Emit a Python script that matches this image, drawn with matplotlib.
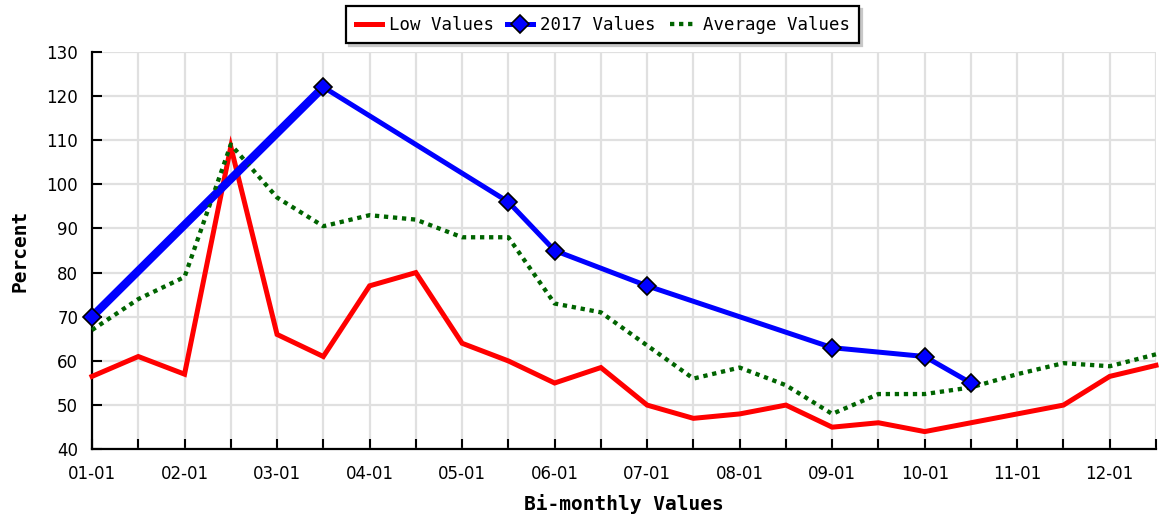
import numpy as np
import matplotlib
matplotlib.use("Agg")
import matplotlib.pyplot as plt

# bi-monthly points, 01-01 .. 12-15
tick_labels = ["01-01", "", "02-01", "", "03-01", "", "04-01", "", "05-01", "", "06-01", "",
               "07-01", "", "08-01", "", "09-01", "", "10-01", "", "11-01", "", "12-01", ""]

low_values = [56.5, 61, 57, 108.5, 66, 61, 77, 80, 64, 60, 55, 58.5,
              50, 47, 48, 50, 45, 46, 44, 46, 48, 50, 56.5, 59]
avg_values = [67, 74, 79, 109, 97, 90.5, 93, 92, 88, 88, 73, 71,
              63.5, 56, 58.5, 54.5, 48, 52.5, 52.5, 54, 57, 59.5, 58.8, 61.5]
y2017_idx = [0, 5, 9, 10, 12, 16, 18, 19]
y2017_values = [70, 122, 96, 85, 77, 63, 61, 55]

x = np.arange(len(tick_labels))

fig = plt.figure(figsize=(11.59, 5.23), dpi=100)
ax = fig.add_axes([0.0794, 0.141, 0.918, 0.760])

ax.plot(x, low_values, color="#ff0000", lw=3.6, solid_joinstyle="miter", label="Low Values",
        zorder=3, clip_on=False)
# first segment of the 2017 line is drawn heavier in the original
ax.plot(y2017_idx[:2], y2017_values[:2], color="#0000ff", lw=6, zorder=4, clip_on=False)
ax.plot(y2017_idx, y2017_values, color="#0000ff", lw=3.6, marker="D", ms=9,
        mfc="#0000ff", mec="black", mew=1.2, label="2017 Values", zorder=5, clip_on=False)
ax.plot(x, avg_values, color="#006400", lw=3.1, linestyle=(0, (1, 1.1)),
        dash_capstyle="butt", label="Average Values", zorder=4, clip_on=False)

ax.set_xlim(0, 23)
ax.set_ylim(40, 130)
ax.set_xticks(x)
ax.set_xticklabels(tick_labels, fontsize=12)
ax.set_yticks(np.arange(40, 131, 10))
ax.tick_params(axis="y", labelsize=12, pad=10)
ax.tick_params(axis="x", pad=11)
ax.tick_params(direction="in", length=7, width=1.5, color="black")

ax.grid(True, color="#e0e0e0", lw=1.6, zorder=0)
ax.set_axisbelow(True)
for s in ["top", "right"]:
    ax.spines[s].set_visible(False)
for s in ["left", "bottom"]:
    ax.spines[s].set_linewidth(1.6)

ax.set_xlabel("Bi-monthly Values", fontsize=14, fontweight="bold", family="DejaVu Sans Mono", labelpad=8)
ax.set_ylabel("Percent", fontsize=14, fontweight="bold", family="DejaVu Sans Mono", labelpad=12)

leg = fig.legend(loc="center", bbox_to_anchor=(0.52, 0.953), ncol=3, frameon=True,
                 fancybox=False, framealpha=1, edgecolor="black", handlelength=1.5,
                 handletextpad=0.4, columnspacing=0.8, borderpad=0.55,
                 prop={"family": "DejaVu Sans Mono", "size": 12.5},
                 shadow={"color": "#c8c8c8", "alpha": 1})
leg.get_frame().set_linewidth(1.6)

fig.savefig("out.png", dpi=100)
